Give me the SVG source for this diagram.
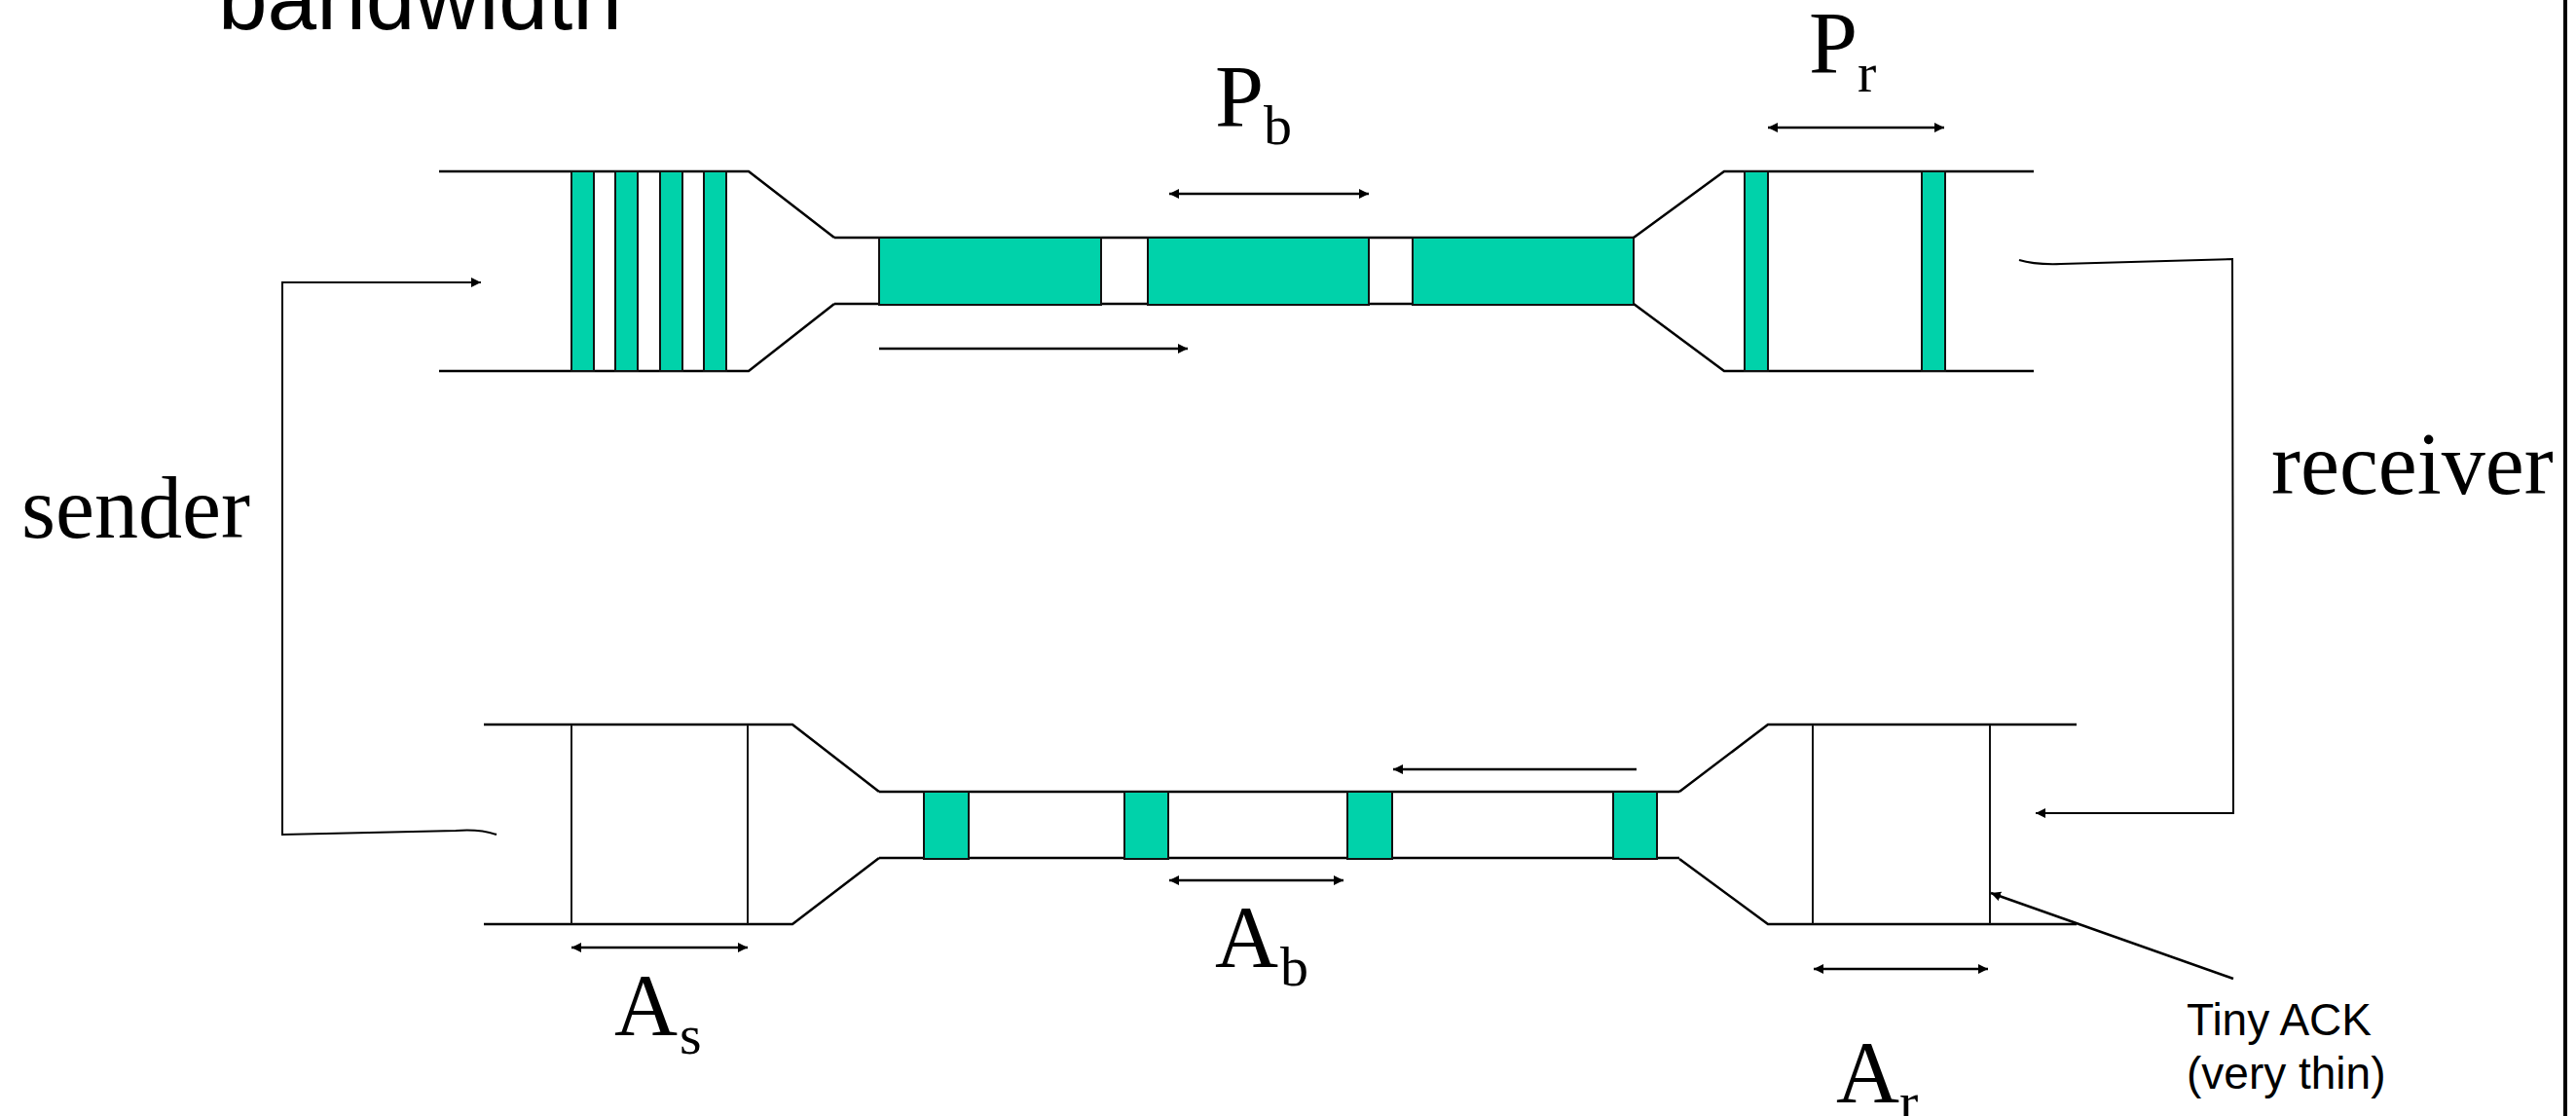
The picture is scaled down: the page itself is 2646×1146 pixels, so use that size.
<svg xmlns="http://www.w3.org/2000/svg" width="2646" height="1146" viewBox="0 0 2646 1146">
<style>
.pipe{fill:none;stroke:#000;stroke-width:2.5}
.pkt{fill:#00D2AA;stroke:#111;stroke-width:2}
.ack{fill:none;stroke:#111;stroke-width:2}
.arr{fill:none;stroke:#000;stroke-width:2.5}
.conn{fill:none;stroke:#000;stroke-width:2}
.serif{font-family:"Liberation Serif","Times New Roman",serif;fill:#000}
.sans{font-family:"Liberation Sans",Arial,sans-serif;fill:#000}
</style>
<defs>
<marker id="ah" markerUnits="userSpaceOnUse" markerWidth="12" markerHeight="10" refX="10" refY="5" orient="auto-start-reverse">
<path d="M0,0 L10,5 L0,10 Z" fill="#000"/>
</marker>
</defs>
<rect width="2646" height="1146" fill="#fff"/>

<text class="sans" x="224" y="30" font-size="91">bandwidth</text>

<g id="top-sender-buffer">
<path class="pipe" d="M451,176 H769 L857,244 M451,381 H769 L857,312"/>
<rect class="pkt" x="587" y="176" width="23" height="205"/>
<rect class="pkt" x="632" y="176" width="23" height="205"/>
<rect class="pkt" x="678" y="176" width="23" height="205"/>
<rect class="pkt" x="723" y="176" width="23" height="205"/>
</g>

<g id="top-bottleneck">
<path class="pipe" d="M857,244 H1678 M857,312 H1678"/>
<rect class="pkt" x="903" y="244" width="228" height="69"/>
<rect class="pkt" x="1179" y="244" width="227" height="69"/>
<rect class="pkt" x="1451" y="244" width="227" height="69"/>
</g>

<g id="top-receiver-buffer">
<path class="pipe" d="M1678,244 L1771,176 H2089 M1678,312 L1771,381 H2089"/>
<rect class="pkt" x="1792" y="176" width="24" height="205"/>
<rect class="pkt" x="1974" y="176" width="24" height="205"/>
</g>

<g id="bottom-sender-buffer">
<path class="pipe" d="M497,744 H814 L903,813 M497,949 H814 L903,881"/>
<line class="ack" x1="587" y1="744" x2="587" y2="949"/>
<line class="ack" x1="768" y1="744" x2="768" y2="949"/>
</g>

<g id="bottom-bottleneck">
<path class="pipe" d="M903,813 H1725 M903,881 H1725"/>
<rect class="pkt" x="949" y="813" width="46" height="69"/>
<rect class="pkt" x="1155" y="813" width="45" height="69"/>
<rect class="pkt" x="1384" y="813" width="46" height="69"/>
<rect class="pkt" x="1657" y="813" width="45" height="69"/>
</g>

<g id="bottom-receiver-buffer">
<path class="pipe" d="M1725,813 L1816,744 H2133 M1725,882 L1816,949 H2133"/>
<line class="ack" x1="1862" y1="744" x2="1862" y2="949"/>
<line class="ack" x1="2044" y1="744" x2="2044" y2="949"/>
</g>

<g id="labels">
<text class="serif" x="1248" y="130" font-size="90">P<tspan font-size="58" dy="18">b</tspan></text>
<text class="serif" x="1858" y="75" font-size="90">P<tspan font-size="58" dy="19">r</tspan></text>
<text class="serif" x="631" y="1063" font-size="90">A<tspan font-size="58" dx="2" dy="19">s</tspan></text>
<text class="serif" x="1248" y="993" font-size="90">A<tspan font-size="58" dx="2" dy="19">b</tspan></text>
<text class="serif" x="1886" y="1132" font-size="90">A<tspan font-size="58" dy="19">r</tspan></text>
<text class="serif" x="22" y="552" font-size="90">sender</text>
<text class="serif" x="2333" y="507" font-size="90">receiver</text>
<text class="sans" font-size="46"><tspan x="2246" y="1063">Tiny ACK</tspan><tspan x="2246" y="1118">(very thin)</tspan></text>
</g>

<g id="connectors">
<line class="arr" x1="1201" y1="199" x2="1406" y2="199" marker-start="url(#ah)" marker-end="url(#ah)"/>
<line class="arr" x1="1816" y1="131" x2="1997" y2="131" marker-start="url(#ah)" marker-end="url(#ah)"/>
<line class="arr" x1="903" y1="358" x2="1220" y2="358" marker-end="url(#ah)"/>
<line class="arr" x1="1681" y1="790" x2="1431" y2="790" marker-end="url(#ah)"/>
<line class="arr" x1="1201" y1="904" x2="1380" y2="904" marker-start="url(#ah)" marker-end="url(#ah)"/>
<line class="arr" x1="587" y1="973" x2="768" y2="973" marker-start="url(#ah)" marker-end="url(#ah)"/>
<line class="arr" x1="1863" y1="995" x2="2042" y2="995" marker-start="url(#ah)" marker-end="url(#ah)"/>
<path class="conn" d="M510,857 Q492,851 468,853 L290,857 L290,290 L494,290" marker-end="url(#ah)"/>
<path class="conn" d="M2074,267 Q2090,272 2117,271 L2293,266 L2294,835 L2091,835" marker-end="url(#ah)"/>
<line class="arr" x1="2294" y1="1005" x2="2045" y2="917" marker-end="url(#ah)"/>
<line x1="2635" y1="0" x2="2635" y2="1146" stroke="#000" stroke-width="4"/>
</g>
</svg>
